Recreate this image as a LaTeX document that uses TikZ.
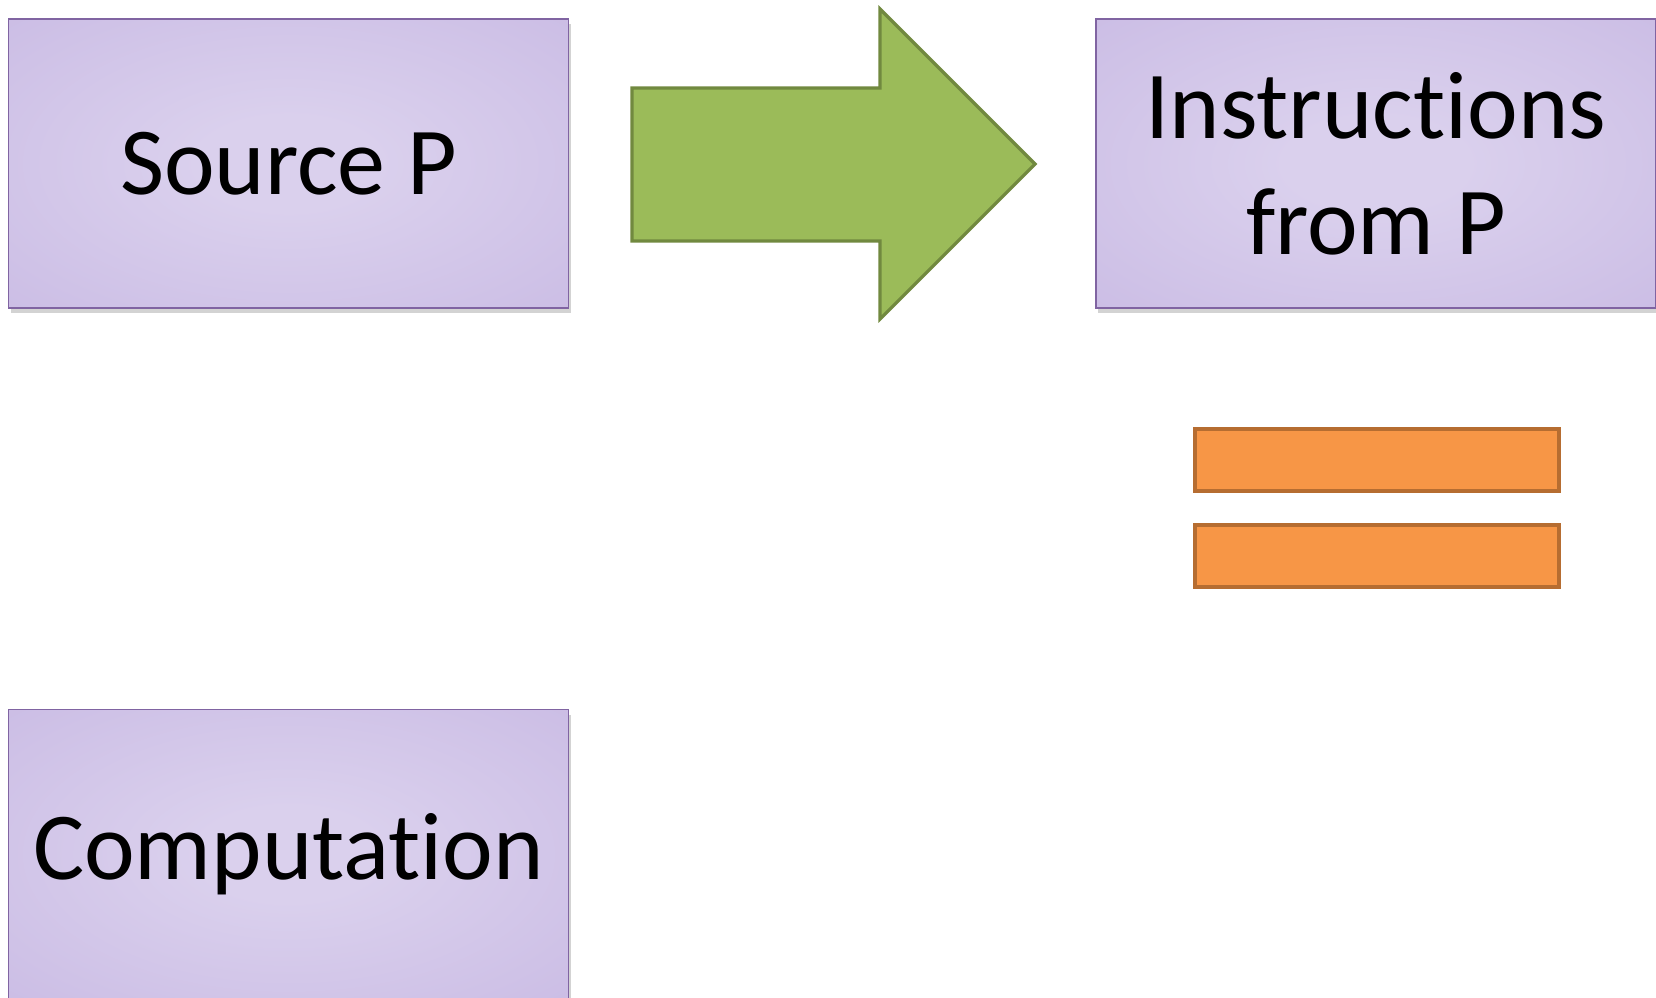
\documentclass[tikz,border=0pt]{standalone}
\usepackage{fontspec}
\setmainfont{Carlito}[Ligatures=NoCommon]
\usetikzlibrary{positioning}
\usetikzlibrary{shadows}

\definecolor{boxline}{RGB}{128,100,162}
\definecolor{boxin}{RGB}{218,208,237}
\definecolor{boxout}{RGB}{196,180,225}
\definecolor{arrowfill}{RGB}{155,187,89}
\definecolor{arrowline}{RGB}{113,137,63}
\definecolor{barfill}{RGB}{247,150,70}
\definecolor{barline}{RGB}{182,109,49}

\pgfdeclareradialshading{boxglow}{\pgfpoint{0bp}{0bp}}{%
    color(0bp)=(boxin); color(8bp)=(boxin); color(50bp)=(boxout); color(75bp)=(boxout)}

\tikzset{
    stage/.style={draw=boxline, line width=0.8pt, shading=boxglow,
        minimum width=280pt, minimum height=144.5pt, align=center,
        font=\fontsize{48}{58}\selectfont,
        drop shadow={shadow xshift=1pt, shadow yshift=-2.5pt, opacity=0.35}},
    eqbar/.style={draw=barline, fill=barfill, line width=2pt,
        minimum width=182pt, minimum height=31pt}
}

\begin{document}
\begin{tikzpicture}[x=0.5pt, y=-0.5pt]
    \useasboundingbox (0,0) rectangle (1656,997);

    \coordinate (src) at (288.5,163.5);
    \coordinate (ins) at (1376,163.5);
    \coordinate (comp) at (288.5,854);

    \node[stage] (source) at (src) {Source P};
    \node[stage] (instr) at (ins) {Instructions\\from P};
    \node[stage] (computation) at (comp) {Computation};

    % big arrow between the two top boxes
    \draw[draw=arrowline, fill=arrowfill, line width=1.6pt, line join=miter]
        (632,88) -- (880,88) -- (880,9) -- (1035,164) -- (880,319) -- (880,241) -- (632,241) -- cycle;

    % equals sign
    \node[eqbar] (eqtop) at (1377,460) {};
    \node[eqbar] (eqbot) at (1377,555.5) {};

\end{tikzpicture}
\end{document}
